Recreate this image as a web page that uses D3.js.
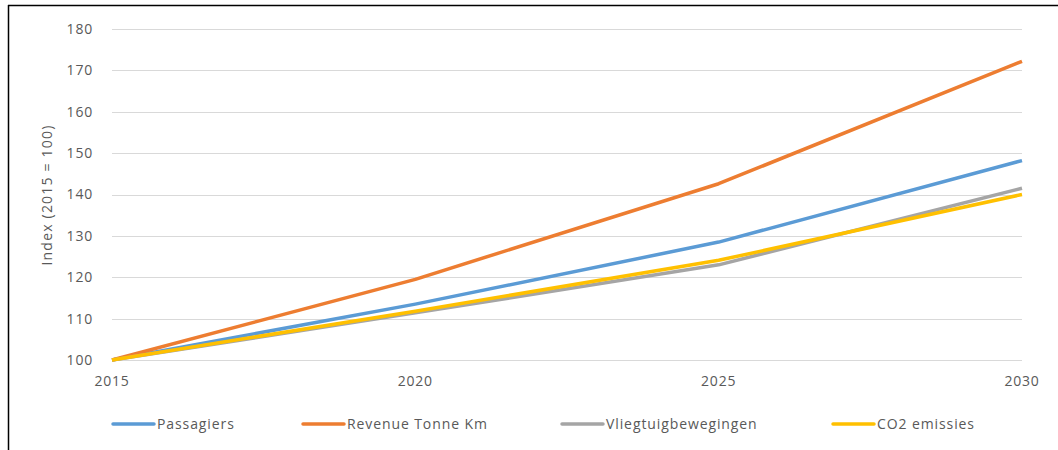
<!DOCTYPE html>
<html>
<head>
<meta charset="utf-8">
<script src="https://d3js.org/d3.v7.min.js"></script>
<style>
  body { margin: 0; background: #fff; }
  svg { font-family: "Open Sans", "Noto Sans", sans-serif; }
</style>
</head>
<body>
<script>
// Data
const years = [2015, 2020, 2025, 2030];
const passagiers = [100, 113.5, 128.5, 148.2];
const revenueTonneKm = [100, 119.5, 142.6, 172.2];
const vliegtuigbewegingen = [100, 111.4, 123.0, 141.5];
const co2Emissies = [100, 111.8, 124.1, 140.0];
const yTicks = [100, 110, 120, 130, 140, 150, 160, 170, 180];

const series = [
  { name: "Passagiers", values: passagiers, color: "#5b9bd5", legendX: 113 },
  { name: "Revenue Tonne Km", values: revenueTonneKm, color: "#ed7d31", legendX: 303 },
  { name: "Vliegtuigbewegingen", values: vliegtuigbewegingen, color: "#a5a5a5", legendX: 562 },
  { name: "CO2 emissies", values: co2Emissies, color: "#ffc000", legendX: 833 }
];

const width = 1058, height = 450;
const svg = d3.select("body").append("svg")
  .attr("width", width).attr("height", height);

// outer frame (left + top only visible)
svg.append("line").attr("x1", 8.5).attr("y1", 5).attr("x2", 8.5).attr("y2", height).attr("stroke", "#000").attr("stroke-width", 1.5);
svg.append("line").attr("x1", 8).attr("y1", 5.5).attr("x2", width).attr("y2", 5.5).attr("stroke", "#000").attr("stroke-width", 1.5);

const x = d3.scaleLinear().domain([2015, 2030]).range([112, 1022]);
const y = d3.scaleLinear().domain([100, 180]).range([360, 29]);

// gridlines
svg.append("g").selectAll("line").data(yTicks).join("line")
  .attr("x1", 112).attr("x2", 1022)
  .attr("y1", d => Math.round(y(d)) + 0.5).attr("y2", d => Math.round(y(d)) + 0.5)
  .attr("stroke", "#d9d9d9").attr("stroke-width", 1);

// y tick labels
svg.append("g").selectAll("text").data(yTicks).join("text")
  .attr("x", 93).attr("y", d => y(d))
  .attr("dy", "0.35em").attr("text-anchor", "end")
  .attr("font-size", 14).attr("letter-spacing", 0.8).attr("fill", "#595959")
  .text(d => d);

// x tick labels
svg.append("g").selectAll("text").data(years).join("text")
  .attr("x", d => x(d)).attr("y", 381)
  .attr("dy", "0.35em").attr("text-anchor", "middle")
  .attr("font-size", 14).attr("letter-spacing", 0.8).attr("fill", "#595959")
  .text(d => d);

// y axis title
svg.append("text")
  .attr("transform", "translate(47,195) rotate(-90)")
  .attr("text-anchor", "middle").attr("dy", "0.35em")
  .attr("font-size", 14).attr("letter-spacing", 1.2).attr("fill", "#595959")
  .text("Index (2015 = 100)");

const line = d3.line().x((d, i) => x(years[i])).y(d => y(d));

series.forEach(s => {
  svg.append("path")
    .datum(s.values)
    .attr("d", line)
    .attr("fill", "none")
    .attr("stroke", s.color)
    .attr("stroke-width", 3.5)
    .attr("stroke-linejoin", "round");
});

// legend
const legend = svg.append("g");
series.forEach(s => {
  legend.append("line")
    .attr("x1", s.legendX).attr("x2", s.legendX + 41)
    .attr("y1", 424).attr("y2", 424)
    .attr("stroke", s.color).attr("stroke-width", 3.5).attr("stroke-linecap", "round");
  legend.append("text")
    .attr("x", s.legendX + 44).attr("y", 424).attr("dy", "0.35em")
    .attr("font-size", 14).attr("letter-spacing", 0.9).attr("fill", "#595959")
    .text(s.name);
});
</script>
</body>
</html>
